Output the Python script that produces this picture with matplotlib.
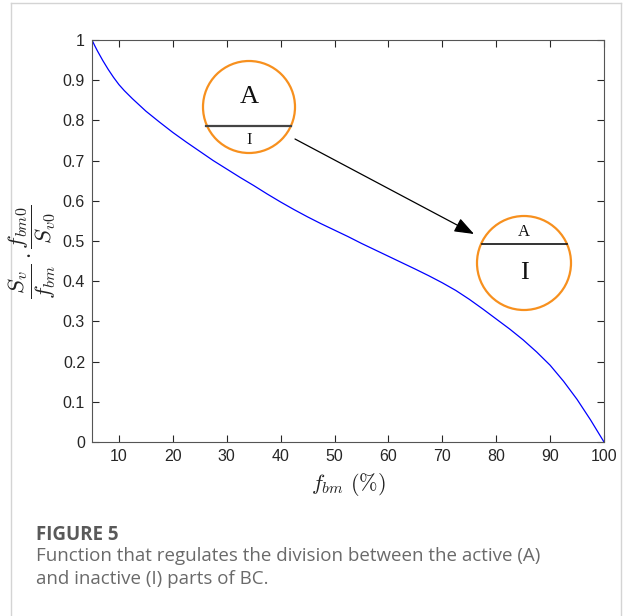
import matplotlib
matplotlib.use("Agg")
import matplotlib.pyplot as plt
from matplotlib.patches import Circle, FancyArrowPatch
from matplotlib.lines import Line2D

# ---- data ----
fbm = [5, 5.5, 6, 7, 8, 9, 10, 11, 12.5, 15, 17.5, 20, 22.5, 25, 27.5, 30,
       32.5, 35, 37.5, 40, 42.5, 45, 47.5, 50, 52.5, 55, 57.5, 60, 62.5, 65,
       67.5, 70, 72.5, 75, 77.5, 80, 82.5, 85, 87.5, 90, 92.5, 95, 97.5, 100]
ratio = [1.000, 0.986, 0.973, 0.949, 0.927, 0.907, 0.889, 0.874, 0.854, 0.823,
         0.796, 0.770, 0.746, 0.723, 0.700, 0.679, 0.658, 0.638, 0.617, 0.597,
         0.578, 0.560, 0.543, 0.527, 0.511, 0.494, 0.478, 0.462, 0.446, 0.430,
         0.4135, 0.396, 0.377, 0.355, 0.331, 0.306, 0.281, 0.254, 0.224, 0.191,
         0.151, 0.106, 0.055, 0.000]
xticks = [10, 20, 30, 40, 50, 60, 70, 80, 90, 100]
yticks = [0, 0.1, 0.2, 0.3, 0.4, 0.5, 0.6, 0.7, 0.8, 0.9, 1]
ytick_labels = ["0", "0.1", "0.2", "0.3", "0.4", "0.5", "0.6", "0.7", "0.8", "0.9", "1"]

W, H = 624, 616
plt.rcParams['mathtext.fontset'] = 'cm'
fig = plt.figure(figsize=(W / 100, H / 100), dpi=100)
fig.patch.set_facecolor('white')

ax = fig.add_axes([92 / W, 1 - 442 / H, (604 - 92) / W, (442 - 40) / H])
ax.plot(fbm, ratio, color=(0, 0, 1), lw=0.9, solid_joinstyle='round')
ax.set_xlim(5, 100)
ax.set_ylim(0, 1)
ax.set_xticks(xticks)
ax.set_yticks(yticks)
ax.set_yticklabels(ytick_labels)
axc = '#262626'
for s in ax.spines.values():
    s.set_color('#555555')
    s.set_linewidth(0.8)
ax.tick_params(direction='in', length=5, width=0.8, color=axc, top=True, right=True,
               labelsize=11.5, labelcolor=axc, pad=5)
for lab in ax.get_xticklabels() + ax.get_yticklabels():
    lab.set_fontfamily('Liberation Sans')

ax.set_xlabel(r'$f_{bm}\ (\%)$', fontsize=16, color='#222222', labelpad=5)

# ---- overlay in pixel coordinates for annotations / frame / caption ----
ov = fig.add_axes([0, 0, 1, 1], facecolor='none')
ov.set_xlim(0, W)
ov.set_ylim(H, 0)
ov.axis('off')

# y label (rotated math)
ov.text(32, 252, r'$\dfrac{S_v}{f_{bm}}\cdot\dfrac{f_{bm0}}{S_{v0}}$', rotation=90,
        ha='center', va='center', fontsize=16.5, color='#222222')

orange = '#F7901E'
# circle 1
ov.add_patch(Circle((249, 107), 46, fill=False, ec=orange, lw=1.6))
ov.add_line(Line2D([206, 291], [126, 126], color='#444444', lw=1.6))
ov.text(249, 97, 'A', ha='center', va='center', fontsize=19, family='Liberation Serif', color='#111111')
ov.text(249, 139.5, 'I', ha='center', va='center', fontsize=12, family='Liberation Serif', color='#111111')
# circle 2
ov.add_patch(Circle((524, 263), 47, fill=False, ec=orange, lw=1.6))
ov.add_line(Line2D([482, 567], [244, 244], color='#111111', lw=1.2))
ov.text(524, 232.5, 'A', ha='center', va='center', fontsize=12, family='Liberation Serif', color='#111111')
ov.text(524, 273, 'I', ha='center', va='center', fontsize=19, family='Liberation Serif', color='#111111')
# arrow
ov.add_patch(FancyArrowPatch((295, 139), (474, 234), arrowstyle='-|>,head_length=8,head_width=3',
                             mutation_scale=1.5, color='black', lw=0.9, shrinkA=0, shrinkB=0))

# frame
frame_c = '#d4d4d4'
ov.add_line(Line2D([11, 11], [3, H], color=frame_c, lw=1.0))
ov.add_line(Line2D([11, 621], [3, 3], color=frame_c, lw=1.0))
ov.add_line(Line2D([621, 621], [3, H], color=frame_c, lw=1.0))

# caption
ov.text(36, 535, 'FIGURE 5', ha='left', va='center', fontsize=13.5, fontweight='bold',
        family='Open Sans', color='#595959')
ov.text(36, 556, 'Function that regulates the division between the active (A)',
        ha='left', va='center', fontsize=13.5, family='Open Sans', color='#6a6a6a')
ov.text(36, 579, 'and inactive (I) parts of BC.',
        ha='left', va='center', fontsize=13.5, family='Open Sans', color='#6a6a6a')

fig.savefig('out.png', dpi=100, facecolor='white')
